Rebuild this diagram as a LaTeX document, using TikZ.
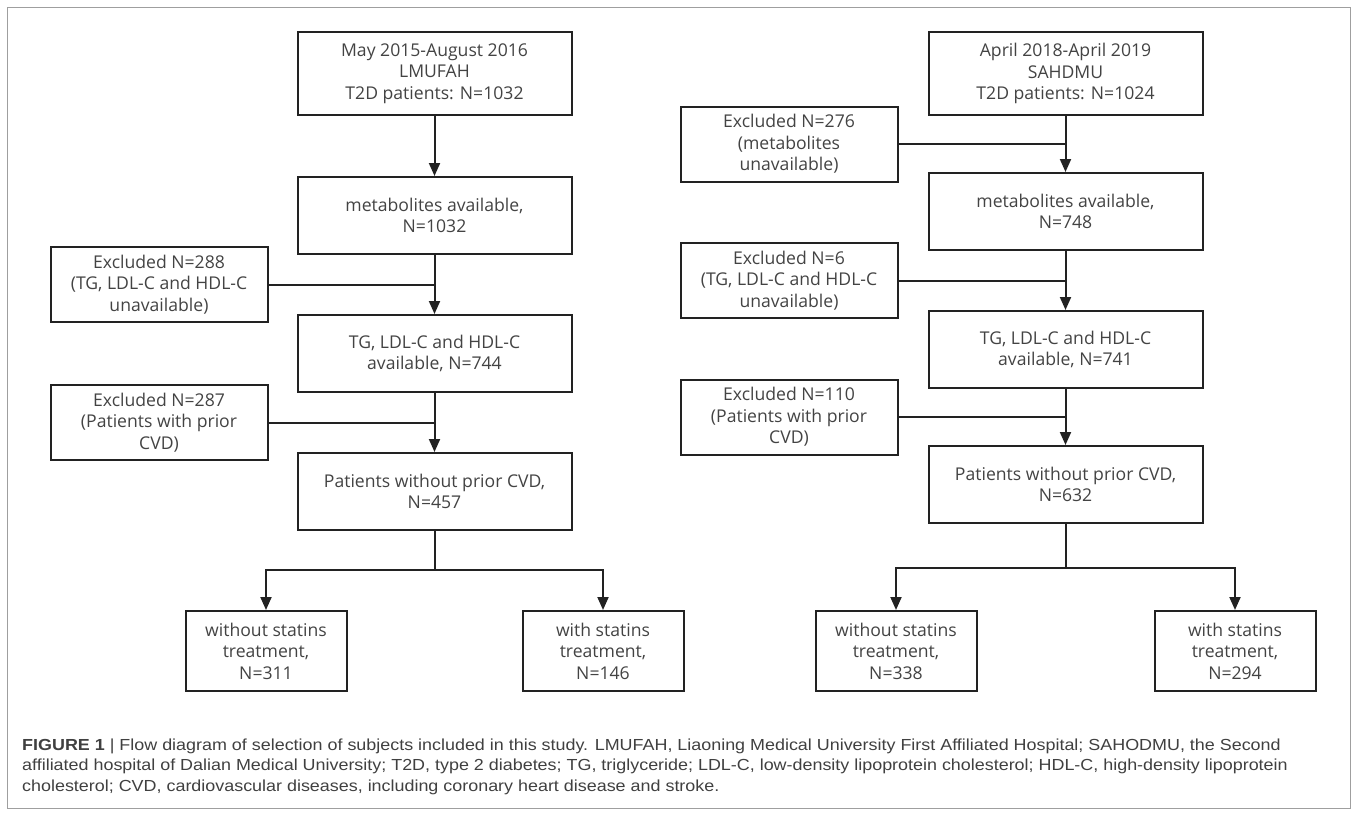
\documentclass[tikz,border=0pt]{standalone}
\usepackage{fontspec}
\setmainfont{Open Sans}
\newfontfamily\capfont[FakeStretch=1.12]{Liberation Sans}
\usetikzlibrary{%
  positioning,%
  calc,%
  arrows.meta%
}
\definecolor{ink}{RGB}{34,34,34}
\definecolor{captext}{RGB}{64,64,64}

\begin{document}
\begin{tikzpicture}[
      x=1pt, y=-1pt,
      every text node part/.style={align=center},
      stage/.style={
        rectangle,
        draw=ink,
        line width=2pt,
        minimum width=#1,
        minimum height=77pt,
        inner sep=2pt,
        font=\fontsize{17.6}{21.5}\selectfont,
        text=ink!85!white
      },
      stage/.default=274pt,
      excluded/.style={
        stage=217pt,
        minimum height=75pt
      },
      result/.style={
        stage=161pt,
        minimum height=80pt
      },
      link/.style={
        draw=ink,
        line width=2pt
      },
      flow/.style={
        link,
        ->,
        >={Triangle[length=13pt,width=11pt]}
      }
    ]
    \useasboundingbox (0,0) rectangle (1357,816);
    \draw[gray!75, line width=1pt] (7,8) rectangle (1350,808);

    % left cohort
    \node[stage, minimum height=83pt]
      (LeftStart) at (434.5,73.5)
      {May 2015-August 2016\\
      LMUFAH\\
      T2D patients: N=1032};

    \node[stage, below=60pt of LeftStart]
      (LeftMetab)
      {metabolites available,\\
      N=1032};

    \node[stage, below=59pt of LeftMetab]
      (LeftLipid)
      {TG, LDL-C and HDL-C\\
      available, N=744};

    \node[stage, below=59pt of LeftLipid]
      (LeftNoCVD)
      {Patients without prior CVD,\\
      N=457};

    \coordinate (LeftGapA) at ($(LeftMetab.south)!0.5!(LeftLipid.north)$);
    \coordinate (LeftGapB) at ($(LeftLipid.south)!0.5!(LeftNoCVD.north)$);
    \coordinate[below=39pt of LeftNoCVD] (LeftSplit);

    \node[excluded, left=166pt of LeftGapA]
      (LeftExclLipid)
      {Excluded N=288\\
      (TG, LDL-C and HDL-C\\
      unavailable)};

    \node[excluded, left=166pt of LeftGapB]
      (LeftExclCVD)
      {Excluded N=287\\
      (Patients with prior\\
      CVD)};

    \node[result, below=40pt of LeftSplit, xshift=-168.5pt]
      (LeftNoStatin)
      {without statins\\
      treatment,\\
      N=311};

    \node[result, below=40pt of LeftSplit, xshift=168.5pt]
      (LeftStatin)
      {with statins\\
      treatment,\\
      N=146};

    % right cohort
    \node[stage, minimum height=83pt]
      (RightStart) at (1065.5,73.5)
      {April 2018-April 2019\\
      SAHDMU\\
      T2D patients: N=1024};

    \node[stage, below=56pt of RightStart]
      (RightMetab)
      {metabolites available,\\
      N=748};

    \node[stage, below=59pt of RightMetab]
      (RightLipid)
      {TG, LDL-C and HDL-C\\
      available, N=741};

    \node[stage, below=56pt of RightLipid]
      (RightNoCVD)
      {Patients without prior CVD,\\
      N=632};

    \coordinate (RightGapA) at ($(RightStart.south)!0.5!(RightMetab.north)$);
    \coordinate (RightGapB) at ($(RightMetab.south)!0.5!(RightLipid.north)$);
    \coordinate (RightGapC) at ($(RightLipid.south)!0.5!(RightNoCVD.north)$);
    \coordinate[below=44pt of RightNoCVD] (RightSplit);

    \node[excluded, left=167pt of RightGapA]
      (RightExclMetab)
      {Excluded N=276\\
      (metabolites\\
      unavailable)};

    \node[excluded, left=167pt of RightGapB]
      (RightExclLipid)
      {Excluded N=6\\
      (TG, LDL-C and HDL-C\\
      unavailable)};

    \node[excluded, left=167pt of RightGapC]
      (RightExclCVD)
      {Excluded N=110\\
      (Patients with prior\\
      CVD)};

    \node[result, below=42pt of RightSplit, xshift=-169.5pt]
      (RightNoStatin)
      {without statins\\
      treatment,\\
      N=338};

    \node[result, below=42pt of RightSplit, xshift=169.5pt]
      (RightStatin)
      {with statins\\
      treatment,\\
      N=294};

    % connectors
    \draw[flow] (LeftStart) -- (LeftMetab);
    \draw[flow] (LeftMetab) -- (LeftLipid);
    \draw[flow] (LeftLipid) -- (LeftNoCVD);
    \draw[link] (LeftExclLipid.east) -- (LeftGapA);
    \draw[link] (LeftExclCVD.east) -- (LeftGapB);
    \draw[link] (LeftNoCVD) -- (LeftSplit);
    \draw[flow] (LeftSplit) -| (LeftNoStatin);
    \draw[flow] (LeftSplit) -| (LeftStatin);

    \draw[flow] (RightStart) -- (RightMetab);
    \draw[flow] (RightMetab) -- (RightLipid);
    \draw[flow] (RightLipid) -- (RightNoCVD);
    \draw[link] (RightExclMetab.east) -- (RightGapA);
    \draw[link] (RightExclLipid.east) -- (RightGapB);
    \draw[link] (RightExclCVD.east) -- (RightGapC);
    \draw[link] (RightNoCVD) -- (RightSplit);
    \draw[flow] (RightSplit) -| (RightNoStatin);
    \draw[flow] (RightSplit) -| (RightStatin);

    % caption
    \node[anchor=base west, inner sep=0pt, text=captext,
          every text node part/.style={align=left},
          font=\capfont\fontsize{16}{20.5}\selectfont]
      (Caption) at (22,791)
      {\textbf{FIGURE 1} | Flow diagram of selection of subjects included in this study. LMUFAH, Liaoning Medical University First Affiliated Hospital; SAHODMU, the Second\\
      affiliated hospital of Dalian Medical University; T2D, type 2 diabetes; TG, triglyceride; LDL-C, low-density lipoprotein cholesterol; HDL-C, high-density lipoprotein\\
      cholesterol; CVD, cardiovascular diseases, including coronary heart disease and stroke.};
  \end{tikzpicture}
\end{document}
